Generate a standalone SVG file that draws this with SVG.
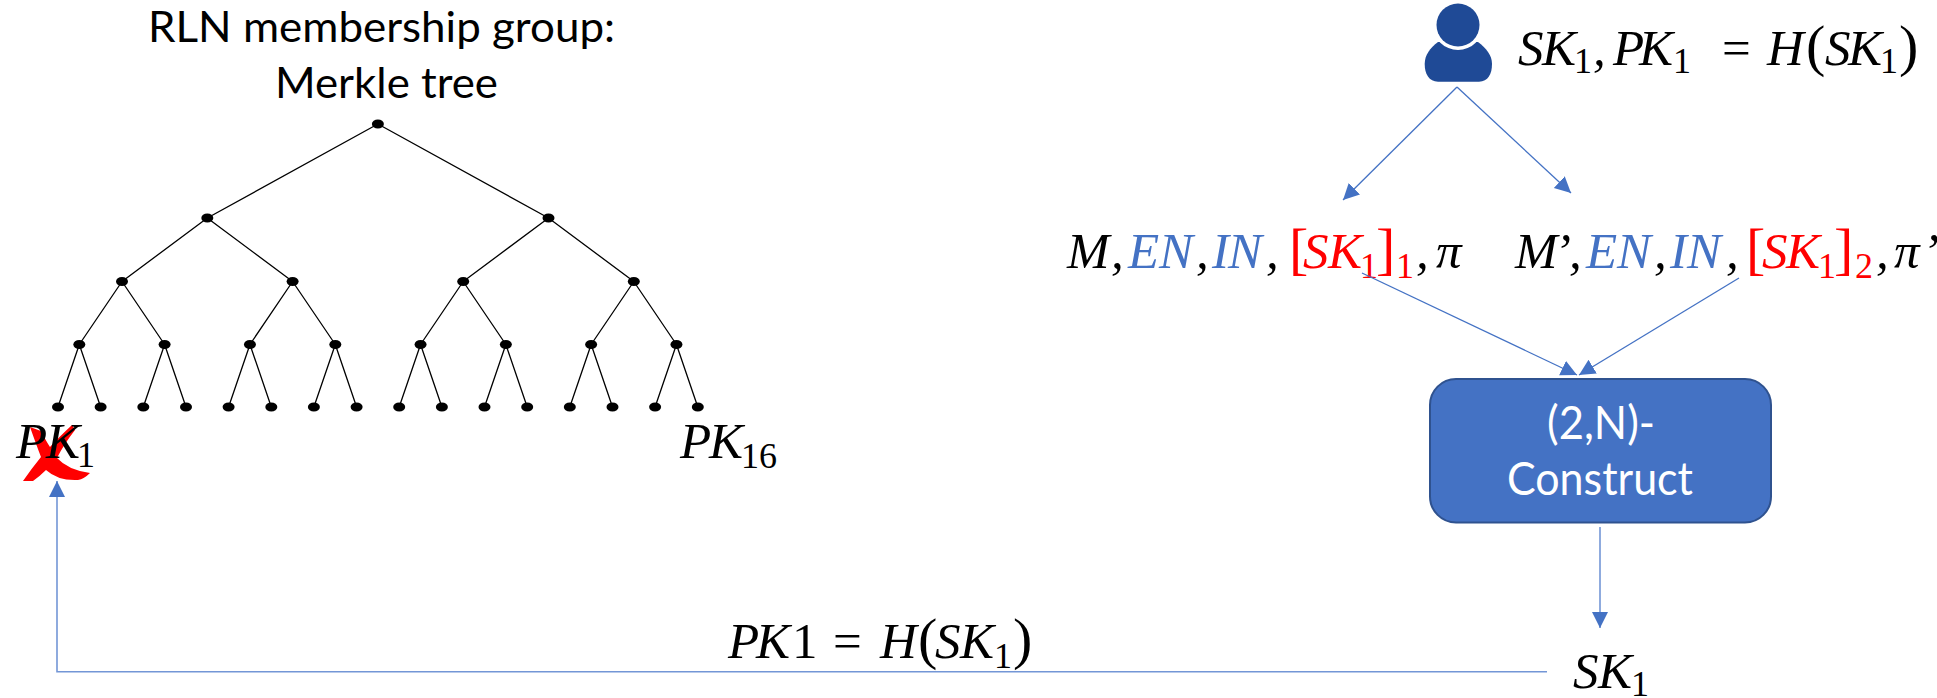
<svg xmlns="http://www.w3.org/2000/svg" width="1937" height="698" viewBox="0 0 1937 698">
<style>
.sans{font-family:"Lato","Liberation Sans",sans-serif}
.t{font-size:42px;fill:#000;text-anchor:start}
.b{font-size:46px;fill:#fff}
.m{font-family:"Liberation Serif",serif;font-size:51px;font-style:italic;fill:#000}
.u{font-family:"Liberation Serif",serif;font-size:36px;font-style:normal}
.r{font-family:"Liberation Serif",serif;font-size:58px;font-style:normal}
.n{font-style:normal}
.blue{fill:#4472C4}.red{fill:#FF0000}
.e{stroke:#000;stroke-width:1.3;fill:none}
.d{fill:#000}
.c{stroke:#4472C4;stroke-width:1.3;fill:none;marker-end:url(#a)}
.l{stroke:#7396D6;stroke-width:1.6;fill:none;marker-end:url(#a)}
</style>
<defs>
<marker id="a" markerUnits="userSpaceOnUse" markerWidth="17" markerHeight="17" refX="16" refY="8" orient="auto"><path d="M0 0L16 8L0 16Z" fill="#4472C4"/></marker>
</defs>
<g id="title"><text class="sans t" x="148" y="42" textLength="467" lengthAdjust="spacingAndGlyphs">RLN membership group:</text><text class="sans t" x="275" y="98" textLength="223" lengthAdjust="spacingAndGlyphs">Merkle tree</text></g>
<g id="tree-edges">
<path class="e" d="M377.9 124L207.3 218M377.9 124L548.5 218M207.3 218L122 281.5M207.3 218L292.6 281.5M548.5 218L463.2 281.5M548.5 218L633.8 281.5M122 281.5L79.3 344.5M122 281.5L164.6 344.5M292.6 281.5L249.95 344.5M292.6 281.5L335.3 344.5M463.2 281.5L420.55 344.5M463.2 281.5L505.85 344.5M633.8 281.5L591.15 344.5M633.8 281.5L676.45 344.5"/>
<path class="e" d="M79.3 344.5L58 407M79.3 344.5L100.65 407M164.6 344.5L143.3 407M164.6 344.5L186 407M249.95 344.5L228.6 407M249.95 344.5L271.3 407M335.3 344.5L313.9 407M335.3 344.5L356.6 407M420.55 344.5L399.2 407M420.55 344.5L441.9 407M505.85 344.5L484.5 407M505.85 344.5L527.2 407M591.15 344.5L569.8 407M591.15 344.5L612.5 407M676.45 344.5L655.1 407M676.45 344.5L697.8 407"/>
</g>
<g id="tree-nodes">
<g id="n1"><ellipse class="d" cx="377.9" cy="124" rx="6" ry="4.5"/></g>
<g id="n2"><ellipse class="d" cx="207.3" cy="218" rx="6" ry="4.5"/></g>
<g id="n3"><ellipse class="d" cx="548.5" cy="218" rx="6" ry="4.5"/></g>
<g id="n4"><ellipse class="d" cx="122" cy="281.5" rx="6" ry="4.5"/></g>
<g id="n5"><ellipse class="d" cx="292.6" cy="281.5" rx="6" ry="4.5"/></g>
<g id="n6"><ellipse class="d" cx="463.2" cy="281.5" rx="6" ry="4.5"/></g>
<g id="n7"><ellipse class="d" cx="633.8" cy="281.5" rx="6" ry="4.5"/></g>
<g id="n8"><ellipse class="d" cx="79.3" cy="344.5" rx="6" ry="4.5"/></g>
<g id="n9"><ellipse class="d" cx="164.6" cy="344.5" rx="6" ry="4.5"/></g>
<g id="n10"><ellipse class="d" cx="249.95" cy="344.5" rx="6" ry="4.5"/></g>
<g id="n11"><ellipse class="d" cx="335.3" cy="344.5" rx="6" ry="4.5"/></g>
<g id="n12"><ellipse class="d" cx="420.55" cy="344.5" rx="6" ry="4.5"/></g>
<g id="n13"><ellipse class="d" cx="505.85" cy="344.5" rx="6" ry="4.5"/></g>
<g id="n14"><ellipse class="d" cx="591.15" cy="344.5" rx="6" ry="4.5"/></g>
<g id="n15"><ellipse class="d" cx="676.45" cy="344.5" rx="6" ry="4.5"/></g>
<g id="n16"><ellipse class="d" cx="58" cy="407" rx="6" ry="4.5"/></g>
<g id="n17"><ellipse class="d" cx="100.65" cy="407" rx="6" ry="4.5"/></g>
<g id="n18"><ellipse class="d" cx="143.3" cy="407" rx="6" ry="4.5"/></g>
<g id="n19"><ellipse class="d" cx="186" cy="407" rx="6" ry="4.5"/></g>
<g id="n20"><ellipse class="d" cx="228.6" cy="407" rx="6" ry="4.5"/></g>
<g id="n21"><ellipse class="d" cx="271.3" cy="407" rx="6" ry="4.5"/></g>
<g id="n22"><ellipse class="d" cx="313.9" cy="407" rx="6" ry="4.5"/></g>
<g id="n23"><ellipse class="d" cx="356.6" cy="407" rx="6" ry="4.5"/></g>
<g id="n24"><ellipse class="d" cx="399.2" cy="407" rx="6" ry="4.5"/></g>
<g id="n25"><ellipse class="d" cx="441.9" cy="407" rx="6" ry="4.5"/></g>
<g id="n26"><ellipse class="d" cx="484.5" cy="407" rx="6" ry="4.5"/></g>
<g id="n27"><ellipse class="d" cx="527.2" cy="407" rx="6" ry="4.5"/></g>
<g id="n28"><ellipse class="d" cx="569.8" cy="407" rx="6" ry="4.5"/></g>
<g id="n29"><ellipse class="d" cx="612.5" cy="407" rx="6" ry="4.5"/></g>
<g id="n30"><ellipse class="d" cx="655.1" cy="407" rx="6" ry="4.5"/></g>
<g id="n31"><ellipse class="d" cx="697.8" cy="407" rx="6" ry="4.5"/></g>
</g>
<g id="cross"><path fill="#FF0000" d="M30 427L41 431Q46 441 50 447Q58 438 72 425L75 430Q64 444 57 458Q68 470 90 473Q84 479 78 480Q58 481 46 470Q40 476 33 481L23 481Q32 468 41 457Q36 444 30 427Z"/></g>
<g id="pk1"><text class="m" y="458"><tspan x="16">P</tspan><tspan x="46">K</tspan><tspan class="u" x="77" y="467">1</tspan></text></g>
<g id="pk16"><text class="m" y="458"><tspan x="680">P</tspan><tspan x="709">K</tspan><tspan class="u" x="741" y="468">16</tspan></text></g>
<g id="user">
<path fill="#1F4A96" d="M1438 42C1430 48 1424.7 55 1424.7 64C1424.7 74 1429 81.7 1438 81.7L1479 81.7C1488 81.7 1492 74 1492 64C1492 55 1486 48 1478 42Z"/>
<circle cx="1458" cy="25" r="25" fill="#fff"/>
<circle cx="1458" cy="25" r="21.5" fill="#1F4A96"/>
</g>
<g id="keys"><text class="m" y="65"><tspan x="1518">S</tspan><tspan x="1542">K</tspan><tspan class="u" x="1574" y="73">1</tspan><tspan x="1593" y="65">,</tspan><tspan x="1613">P</tspan><tspan x="1639">K</tspan><tspan class="u" x="1673" y="73">1</tspan><tspan class="n" x="1722" y="65">=</tspan><tspan x="1767">H</tspan><tspan class="r" x="1806">(</tspan><tspan x="1825">S</tspan><tspan x="1848">K</tspan><tspan class="u" x="1880" y="73">1</tspan><tspan class="r" x="1899" y="65">)</tspan></text></g>
<g id="msg1"><text class="m" y="268"><tspan x="1067">M</tspan><tspan x="1111">,</tspan><tspan class="blue" x="1128">E</tspan><tspan class="blue" x="1159">N</tspan><tspan x="1196">,</tspan><tspan class="blue" x="1212">I</tspan><tspan class="blue" x="1228">N</tspan><tspan x="1266">,</tspan><tspan class="r red" x="1289">[</tspan><tspan class="red" x="1303">S</tspan><tspan class="red" x="1328">K</tspan><tspan class="u red" x="1360" y="278">1</tspan><tspan class="r red" x="1376" y="268">]</tspan><tspan class="u red" x="1396" y="278">1</tspan><tspan x="1416" y="268">,</tspan><tspan x="1436">π</tspan></text></g>
<g id="msg2"><text class="m" y="268"><tspan x="1515">M</tspan><tspan x="1554">’</tspan><tspan x="1569">,</tspan><tspan class="blue" x="1586">E</tspan><tspan class="blue" x="1617">N</tspan><tspan x="1654">,</tspan><tspan class="blue" x="1670">I</tspan><tspan class="blue" x="1687">N</tspan><tspan x="1726">,</tspan><tspan class="r red" x="1746">[</tspan><tspan class="red" x="1762">S</tspan><tspan class="red" x="1786">K</tspan><tspan class="u red" x="1818" y="278">1</tspan><tspan class="r red" x="1834" y="268">]</tspan><tspan class="u red" x="1855" y="278">2</tspan><tspan x="1876" y="268">,</tspan><tspan x="1894">π</tspan><tspan x="1922">’</tspan></text></g>
<g id="construct">
<rect x="1430" y="379" width="341" height="143.5" rx="26" fill="#4472C4" stroke="#2F528F" stroke-width="2"/>
<text class="sans b" x="1547" y="439" textLength="108" lengthAdjust="spacingAndGlyphs">(2,N)-</text>
<text class="sans b" x="1507" y="495" textLength="186" lengthAdjust="spacingAndGlyphs">Construct</text>
</g>
<g id="sk1"><text class="m" y="688"><tspan x="1573">S</tspan><tspan x="1598">K</tspan><tspan class="u" x="1631" y="696">1</tspan></text></g>
<g id="hash"><text class="m" y="658"><tspan x="728">P</tspan><tspan x="756">K</tspan><tspan class="n" x="792">1</tspan><tspan class="n" x="833">=</tspan><tspan x="880">H</tspan><tspan class="r" x="918">(</tspan><tspan x="935">S</tspan><tspan x="960">K</tspan><tspan class="u" x="994" y="668">1</tspan><tspan class="r" x="1013" y="658">)</tspan></text></g>
<g id="connectors">
<line class="c" x1="1457" y1="87" x2="1343" y2="200"/>
<line class="c" x1="1457" y1="87" x2="1571" y2="193"/>
<line class="c" x1="1362" y1="273" x2="1577" y2="375"/>
<line class="c" x1="1739" y1="278" x2="1579" y2="375"/>
<line class="l" x1="1600" y1="527" x2="1600" y2="628"/>
<path class="l" d="M1547 671.7L57 671.7L57 481"/>
</g>
</svg>
